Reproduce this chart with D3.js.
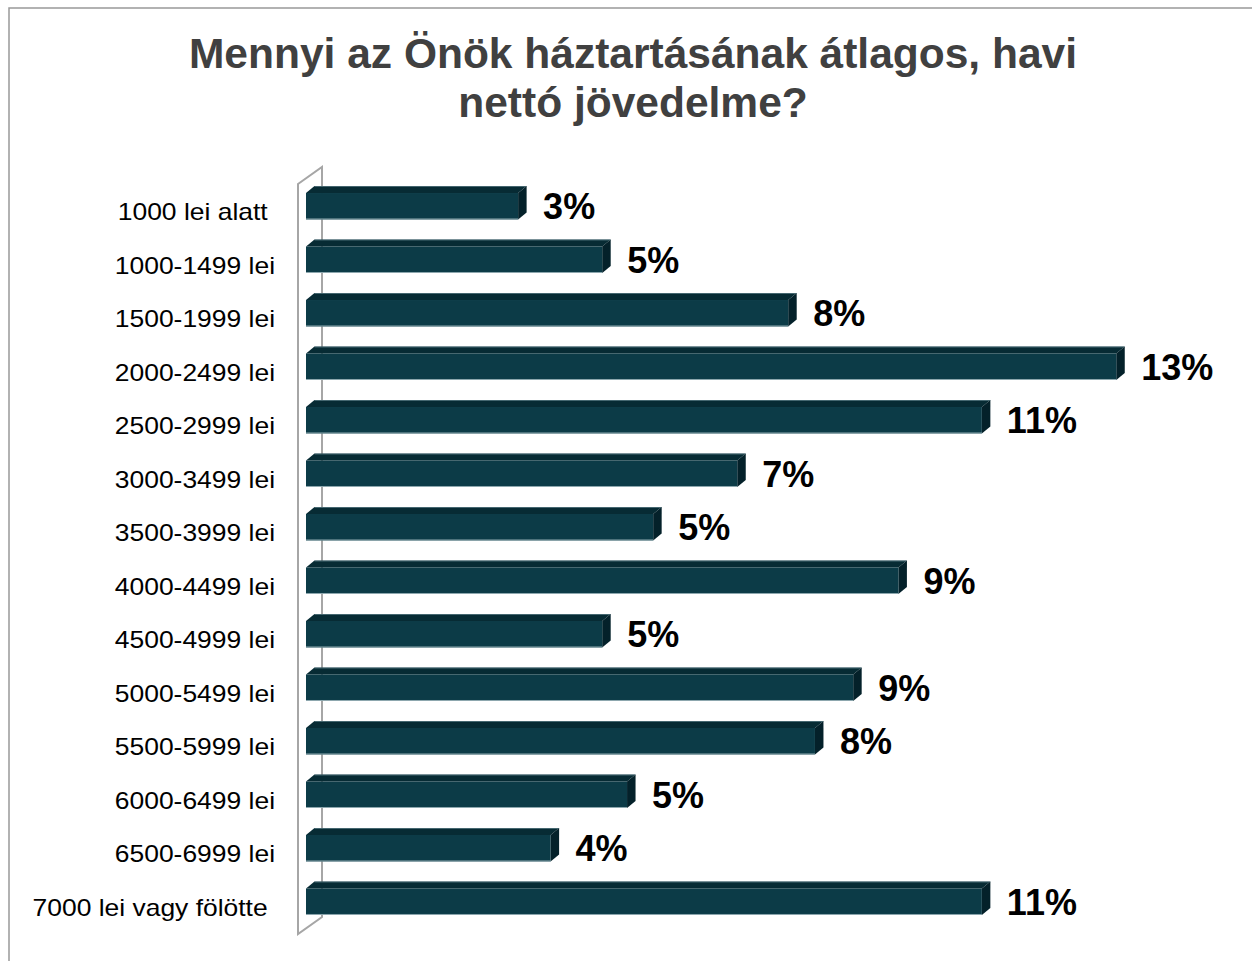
<!DOCTYPE html>
<html>
<head>
<meta charset="utf-8">
<script src="https://cdn.jsdelivr.net/npm/d3@7"></script>
<style>
  body { margin: 0; background: #fff; }
  svg { display: block; font-family: "Liberation Sans", Arial, sans-serif; }
</style>
</head>
<body>
<script>
// categories (trailing space kept as in the original labels)
var categories = [
  "1000 lei alatt ", "1000-1499 lei", "1500-1999 lei", "2000-2499 lei",
  "2500-2999 lei", "3000-3499 lei", "3500-3999 lei", "4000-4499 lei",
  "4500-4999 lei", "5000-5499 lei", "5500-5999 lei", "6000-6499 lei",
  "6500-6999 lei", "7000 lei vagy fölötte "
];

// shares in %
var shares = [3.33, 4.65, 7.57, 12.72, 10.61, 6.77, 5.45, 9.30, 4.65, 8.59, 7.99, 5.04, 3.84, 10.61];

var titleLines = ["Mennyi az Önök háztartásának átlagos, havi", "nettó jövedelme?"];

//Width and height
var w = 1252;
var h = 961;

var svg = d3.select("body")
            .append("svg")
            .attr("width", w)
            .attr("height", h);

// outer frame
svg.append("rect")
   .attr("x", 9).attr("y", 8)
   .attr("width", 1400).attr("height", 1100)
   .style("fill", "none")
   .style("stroke", "#999")
   .style("stroke-width", 1.5);

// title
svg.append("text")
   .attr("x", 633)
   .attr("y", 68)
   .attr("text-anchor", "middle")
   .style("font-size", "42.5px")
   .style("font-weight", "bold")
   .style("fill", "#404040")
   .selectAll("tspan")
   .data(titleLines)
   .enter()
   .append("tspan")
   .attr("x", 633)
   .attr("dy", function(d, i) { return i ? 49 : 0; })
   .text(function(d) { return d; });

//scales
var x = d3.scaleLinear()
          .domain([0, 14])
          .range([306, 306 + 63.7 * 14]);

var y = d3.scaleBand()
          .domain(categories)
          .range([179, 929])
          .paddingInner(0.505)
          .paddingOuter(0.262);

var depth = {dx: 8.5, dy: -7};
var fmt = d3.format(".0f");

// wall (3D axis)
var r = y.range();
var fx = x(0) - 8, bx = x(0) + 16;
var wall = [[fx, r[0] + 5], [bx, r[0] - 12], [bx, r[1] - 12], [fx, r[1] + 5]];
svg.append("path")
   .attr("d", "M" + wall[0] + "L" + wall[1] + "L" + wall[2] + "L" + wall[3] + "Z")
   .style("fill", "none")
   .style("stroke", "#a6a6a6")
   .style("stroke-width", 2);

// bars
var bars = svg.selectAll("g.bar")
              .data(shares)
              .enter()
              .append("g")
              .attr("class", "bar");

function pts(a) { return a.map(function(p) { return p.join(","); }).join(" "); }

bars.append("polygon")
    .attr("points", function(d, i) {
      var t = y(categories[i]), x0 = x(0), x1 = x(d);
      return pts([[x0, t], [x0 + depth.dx, t + depth.dy], [x1 + depth.dx, t + depth.dy], [x1, t]]);
    })
    .style("fill", "#072b34");

bars.append("line")
    .attr("x1", function() { return x(0) + depth.dx; })
    .attr("x2", function(d) { return x(d) + depth.dx; })
    .attr("y1", function(d, i) { return y(categories[i]) + depth.dy + 0.5; })
    .attr("y2", function(d, i) { return y(categories[i]) + depth.dy + 0.5; })
    .style("stroke", "#6f8f98")
    .style("stroke-width", 1)
    .style("opacity", 0.6);

bars.append("polygon")
    .attr("points", function(d, i) {
      var t = y(categories[i]), b = t + y.bandwidth(), x1 = x(d);
      return pts([[x1, t], [x1 + depth.dx, t + depth.dy], [x1 + depth.dx, b + depth.dy], [x1, b]]);
    })
    .style("fill", "#04212a");

bars.append("rect")
    .attr("x", x(0))
    .attr("y", function(d, i) { return y(categories[i]); })
    .attr("width", function(d) { return x(d) - x(0); })
    .attr("height", y.bandwidth())
    .style("fill", "#0c3b47");

bars.append("line")
    .attr("x1", x(0))
    .attr("x2", function(d) { return x(d); })
    .attr("y1", function(d, i) { return y(categories[i]) + y.bandwidth() - 0.5; })
    .attr("y2", function(d, i) { return y(categories[i]) + y.bandwidth() - 0.5; })
    .style("stroke", "#8fa9b0")
    .style("stroke-width", 1);

// value labels
bars.append("text")
    .attr("x", function(d) { return x(d) + 25; })
    .attr("y", function(d, i) { return y(categories[i]) + y.bandwidth(); })
    .style("font-size", "36px")
    .style("font-weight", "bold")
    .style("fill", "#000")
    .text(function(d) { return fmt(d) + "%"; });

// category labels
svg.selectAll("text.cat")
   .data(categories)
   .enter()
   .append("text")
   .attr("class", "cat")
   .attr("transform", function(d) {
     return "translate(275," + (y(d) + y.bandwidth() + 1) + ") scale(1.15,1)";
   })
   .attr("text-anchor", "end")
   .style("white-space", "pre")
   .style("font-size", "23px")
   .style("fill", "#000")
   .text(function(d) { return d; });
</script>
</body>
</html>
